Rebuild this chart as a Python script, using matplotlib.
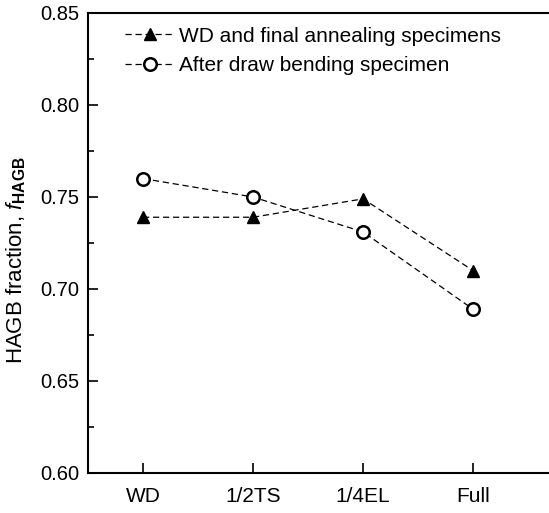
import matplotlib
matplotlib.use('Agg')
import matplotlib.pyplot as plt
from matplotlib.ticker import MultipleLocator

plt.rcParams['font.family'] = ['Liberation Sans', 'DejaVu Sans']
plt.rcParams['mathtext.fontset'] = 'custom'
plt.rcParams['mathtext.it'] = 'Liberation Sans:italic'
plt.rcParams['mathtext.rm'] = 'Liberation Sans'
plt.rcParams['mathtext.bf'] = 'Liberation Sans:bold'

# data
categories = ['WD', '1/2TS', '1/4EL', 'Full']
wd_anneal = [0.739, 0.739, 0.749, 0.710]
after_bend = [0.760, 0.750, 0.731, 0.689]
labels = ['WD and final annealing specimens', 'After draw bending specimen']

fig = plt.figure(figsize=(5.49, 5.13), dpi=100)
ax = fig.add_axes([88 / 549, 40 / 513, 461 / 549, 460 / 513])

x = range(len(categories))
ax.plot(x, wd_anneal, color='black', lw=0.9, dashes=(5, 3),
        marker='^', ms=8.5, mfc='black', mec='black', label=labels[0])
ax.plot(x, after_bend, color='black', lw=0.9, dashes=(5, 3),
        marker='o', ms=9, mfc='white', mec='black', mew=1.8, label=labels[1])

ax.set_xlim(-0.5, 3.69)
ax.set_ylim(0.60, 0.85)
ax.set_xticks(list(x))
ax.set_xticklabels(categories)
ax.yaxis.set_major_locator(MultipleLocator(0.05))
ax.yaxis.set_minor_locator(MultipleLocator(0.025))
ax.yaxis.set_major_formatter(plt.FormatStrFormatter('%.2f'))

ax.tick_params(which='both', direction='in', labelsize=14.5, width=1.2)
ax.tick_params(which='major', length=7)
ax.tick_params(which='minor', length=4.5)
ax.tick_params(axis='x', pad=10, labelsize=15)
ax.tick_params(axis='y', pad=6)

for side in ['left', 'bottom', 'top']:
    ax.spines[side].set_linewidth(1.5)
ax.spines['right'].set_visible(False)

ax.set_ylabel(r'HAGB fraction, $\mathit{f}_{\mathbf{HAGB}}$', fontsize=16)
ax.yaxis.set_label_coords(-0.13, 0.463)

ax.legend(loc='upper left', bbox_to_anchor=(0.05, 1.0), frameon=False,
          fontsize=15, handlelength=2.4, handletextpad=0.2, labelspacing=0.5,
          borderaxespad=0.25)

fig.savefig('out.png', dpi=100)
